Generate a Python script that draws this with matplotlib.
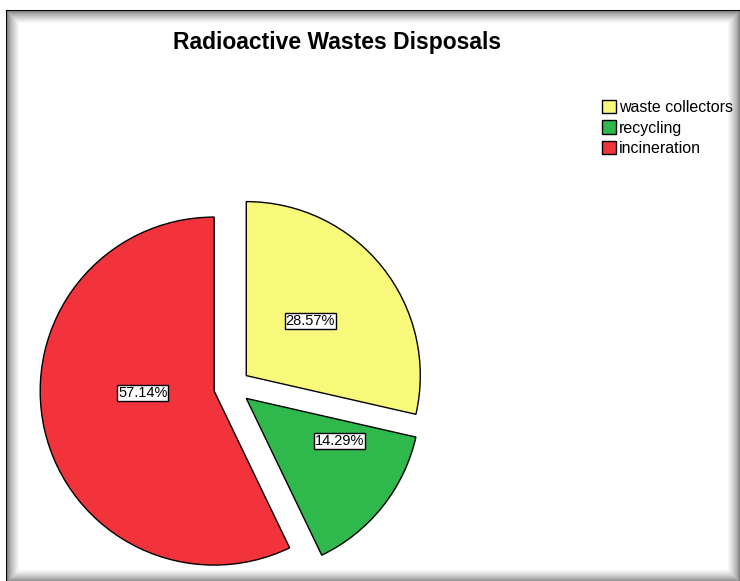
import numpy as np
import matplotlib
matplotlib.use("Agg")
import matplotlib.pyplot as plt
from matplotlib.patches import Rectangle

plt.rcParams["font.family"] = ["Liberation Sans", "DejaVu Sans"]

# data
labels = ["waste collectors", "recycling", "incineration"]
shares = [28.57, 14.29, 57.14]
colors = ["#f8f87a", "#2fb84c", "#f2333b"]

# label placement inside each wedge (fraction of radius, angle shift in degrees)
label_dist = [0.485, 0.59, 0.41]
label_shift = [2, 14, -11]

W, H = 740, 581
fig = plt.figure(figsize=(W / 100, H / 100), dpi=100)
fig.patch.set_facecolor("white")

# frame with inner shadow (SPSS output look)
x0, y0, x1, y1 = 7, 11, 739, 581
n = 12
for i in range(n):
    g = 0.5 + 0.5 * (i / n) ** 0.7
    fig.patches.append(Rectangle(
        ((x0 + i) / W, 1 - (y1 - i) / H), (x1 - x0 - 2 * i) / W, (y1 - y0 - 2 * i) / H,
        transform=fig.transFigure, fill=False, edgecolor=(g, g, g), linewidth=0.8, zorder=1))
fig.lines.append(plt.Line2D([x0 / W, x0 / W], [1 - y0 / H, 0], transform=fig.transFigure,
                            color="black", linewidth=2.2, zorder=1))
fig.lines.append(plt.Line2D([x0 / W, x1 / W], [1 - y0 / H, 1 - y0 / H], transform=fig.transFigure,
                            color="black", linewidth=2.2, zorder=1))

# pie: centre at (232, 387) px, radius 174 px
cx, cy, r = 232, 387, 174
ax = fig.add_axes([0, 0, 1, 1], zorder=2)
ax.patch.set_visible(False)
wedges, texts, autotexts = ax.pie(
    shares, colors=colors, startangle=90, counterclock=False,
    explode=[0.105] * len(shares), autopct="%.2f%%", pctdistance=0.5,
    wedgeprops=dict(edgecolor="black", linewidth=1.0),
    textprops=dict(fontsize=10.5, color="black"))
for w, t, d, s in zip(wedges, autotexts, label_dist, label_shift):
    ang = np.deg2rad((w.theta1 + w.theta2) / 2 + s)
    t.set_position((w.center[0] + d * w.r * np.cos(ang), w.center[1] + d * w.r * np.sin(ang)))
    t.set_bbox(dict(facecolor="white", edgecolor="black", boxstyle="square,pad=0.06", linewidth=1.0))
ax.set_xlim(-cx / r, (W - cx) / r)
ax.set_ylim(-(H - cy) / r, cy / r)
ax.set_aspect("auto")
ax.axis("off")

fig.text(337 / W, 1 - 43 / H, "Radioactive Wastes Disposals", ha="center", va="center",
         fontsize=16.5, fontweight="bold")

fig.legend(wedges, labels, loc="upper left", bbox_to_anchor=(602 / W, 1 - 100 / H),
           frameon=False, fontsize=11.5, handlelength=0.9, handleheight=0.9,
           handletextpad=0.15, labelspacing=0.33, borderpad=0, borderaxespad=0)

fig.savefig("out.png", dpi=100)
